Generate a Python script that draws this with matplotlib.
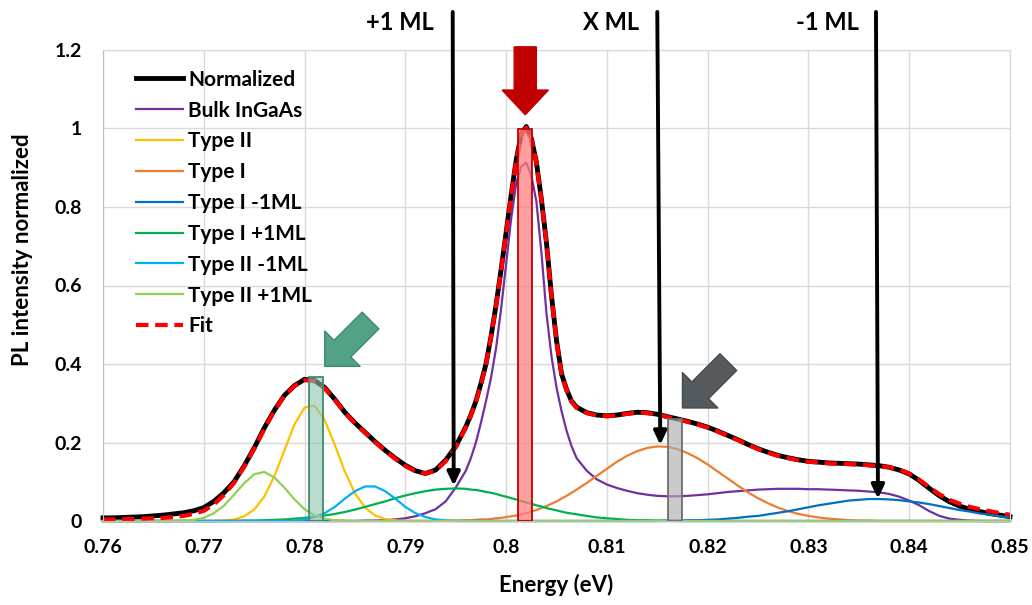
import numpy as np
import matplotlib
matplotlib.use("Agg")
import matplotlib.pyplot as plt
from matplotlib.colors import to_rgba
from matplotlib.ticker import FuncFormatter, MultipleLocator

plt.rcParams['font.family'] = ['Lato', 'DejaVu Sans']
plt.rcParams['font.weight'] = 'bold'

# Energy grid (eV): 1 meV steps, 0.5 meV steps around the main peak
energy = np.round(np.concatenate([
    np.arange(0.760, 0.7955, 0.001),
    np.arange(0.796, 0.8067, 0.0005),
    np.arange(0.807, 0.8505, 0.001)]), 4)

normalized = [
    0.008, 0.008, 0.009, 0.010, 0.011, 0.013, 0.015, 0.018, 0.021, 0.026,
    0.034, 0.050, 0.072, 0.100, 0.140, 0.186, 0.237, 0.282, 0.320, 0.345,
    0.361, 0.358, 0.340, 0.310, 0.277, 0.250, 0.226, 0.202, 0.180, 0.160,
    0.142, 0.128, 0.121, 0.130, 0.155, 0.190,
    0.240, 0.270, 0.305, 0.350, 0.400, 0.470, 0.550, 0.640, 0.735, 0.830,
    0.920, 0.985, 1.005, 0.975, 0.915, 0.820, 0.710, 0.575, 0.460, 0.375,
    0.335, 0.305,
    0.290, 0.276, 0.270, 0.268, 0.270, 0.274, 0.277, 0.276, 0.272, 0.266,
    0.260, 0.254, 0.247, 0.239, 0.229, 0.218, 0.207, 0.195, 0.184, 0.175,
    0.167, 0.161, 0.156, 0.152, 0.150, 0.148, 0.147, 0.146, 0.145, 0.143,
    0.141, 0.137, 0.130, 0.120, 0.103, 0.083, 0.064, 0.049, 0.038, 0.030,
    0.024, 0.019, 0.015, 0.011]

fit = [
    0.004, 0.004, 0.005, 0.005, 0.006, 0.007, 0.008, 0.010, 0.013, 0.018,
    0.026, 0.042, 0.066, 0.097, 0.138, 0.184, 0.234, 0.281, 0.319, 0.344,
    0.359, 0.356, 0.338, 0.309, 0.276, 0.249, 0.225, 0.201, 0.179, 0.158,
    0.140, 0.127, 0.121, 0.128, 0.152, 0.188,
    0.238, 0.268, 0.303, 0.348, 0.398, 0.468, 0.548, 0.638, 0.733, 0.828,
    0.918, 0.982, 1.002, 0.973, 0.913, 0.818, 0.708, 0.573, 0.458, 0.374,
    0.333, 0.303,
    0.288, 0.275, 0.269, 0.267, 0.269, 0.273, 0.276, 0.275, 0.271, 0.265,
    0.259, 0.253, 0.246, 0.238, 0.228, 0.217, 0.206, 0.194, 0.183, 0.174,
    0.166, 0.160, 0.155, 0.151, 0.149, 0.147, 0.146, 0.145, 0.144, 0.142,
    0.140, 0.137, 0.131, 0.121, 0.105, 0.086, 0.068, 0.054, 0.044, 0.036,
    0.030, 0.025, 0.020, 0.016]

# Fit components
bulk_ingaas = [0.0] * 26 + [
    0.001, 0.001, 0.002, 0.004, 0.007, 0.012, 0.020, 0.030, 0.050, 0.085,
    0.128, 0.160, 0.200, 0.250, 0.305, 0.365, 0.440, 0.540, 0.655, 0.770,
    0.860, 0.903, 0.913, 0.880, 0.815, 0.685, 0.530, 0.420, 0.340, 0.280,
    0.230, 0.190,
    0.160, 0.128, 0.106, 0.093, 0.084, 0.077, 0.071, 0.067, 0.064, 0.063,
    0.063, 0.064, 0.066, 0.068, 0.071, 0.074, 0.076, 0.078, 0.080, 0.081,
    0.082, 0.082, 0.082, 0.081, 0.081, 0.080, 0.079, 0.078, 0.077, 0.075,
    0.073, 0.069, 0.062, 0.052, 0.040, 0.025, 0.013, 0.006, 0.003, 0.001,
    0.0, 0.0, 0.0, 0.0]

type_ii = [0.0] * 11 + [
    0.000, 0.001, 0.004, 0.012, 0.029, 0.062, 0.114, 0.180, 0.246, 0.289,
    0.294, 0.257, 0.194, 0.126, 0.071, 0.034, 0.014, 0.005, 0.002, 0.000,
] + [0.0] * 71

type_i = [0.0] * 34 + [
    0.001, 0.001,
    0.002, 0.002, 0.003, 0.004, 0.004, 0.005, 0.007, 0.008, 0.010, 0.012,
    0.014, 0.017, 0.020, 0.024, 0.028, 0.033, 0.038, 0.044, 0.050, 0.057,
    0.064, 0.072,
    0.080, 0.097, 0.115, 0.133, 0.151, 0.166, 0.178, 0.186, 0.190, 0.189,
    0.183, 0.173, 0.160, 0.144, 0.126, 0.108, 0.090, 0.073, 0.058, 0.045,
    0.034, 0.025, 0.018, 0.013, 0.009, 0.006, 0.004, 0.002, 0.001, 0.001,
] + [0.0] * 14

type_i_m1 = [0.0] * 66 + [
    0.000, 0.001, 0.001, 0.002, 0.002, 0.003, 0.004, 0.006, 0.008, 0.011,
    0.013, 0.017, 0.021, 0.025, 0.030, 0.035, 0.040, 0.044, 0.048, 0.052,
    0.054, 0.056, 0.056, 0.055, 0.053, 0.050, 0.047, 0.043, 0.038, 0.033,
    0.028, 0.024, 0.019, 0.016, 0.012, 0.009]

type_i_p1 = [0.0] * 14 + [
    0.001, 0.001, 0.002, 0.003, 0.004, 0.006, 0.008, 0.011, 0.014, 0.018,
    0.023, 0.029, 0.036, 0.043, 0.050, 0.058, 0.065, 0.071, 0.076, 0.080,
    0.082, 0.083,
    0.082, 0.080, 0.079, 0.077, 0.074, 0.072, 0.069, 0.065, 0.062, 0.058,
    0.055, 0.051, 0.047, 0.044, 0.040, 0.037, 0.033, 0.030, 0.027, 0.024,
    0.021, 0.019,
    0.017, 0.013, 0.009, 0.007, 0.005, 0.003, 0.002, 0.002, 0.001, 0.001,
] + [0.0] * 34

type_ii_m1 = [0.0] * 18 + [
    0.000, 0.001, 0.004, 0.010, 0.020, 0.036, 0.057, 0.076, 0.088, 0.088,
    0.076, 0.057, 0.036, 0.020, 0.010, 0.004, 0.001, 0.000,
] + [0.0] * 66

type_ii_p1 = [0.0] * 7 + [
    0.000, 0.001, 0.003, 0.008, 0.020, 0.039, 0.067, 0.096, 0.119, 0.125,
    0.111, 0.085, 0.055, 0.030, 0.014, 0.006, 0.002, 0.001,
] + [0.0] * 77

series = [
    ("Normalized", normalized, "#000000"),
    ("Bulk InGaAs", bulk_ingaas, "#7030A0"),
    ("Type II", type_ii, "#FFC000"),
    ("Type I", type_i, "#ED7D31"),
    ("Type I -1ML", type_i_m1, "#0070C0"),
    ("Type I +1ML", type_i_p1, "#00B050"),
    ("Type II -1ML", type_ii_m1, "#00B0F0"),
    ("Type II +1ML", type_ii_p1, "#92D050"),
]

# Highlighted energy bands
band_x = [0.7811, 0.80185, 0.8168]
band_height = [0.366, 1.0, 0.26]
band_width = 0.0014
band_face = [to_rgba("#8CC5AF", 0.6), to_rgba("#FF7F7F", 0.75), to_rgba("#AEAEB1", 0.65)]
band_edge = ["#3F8A6E", "#C00000", "#6E6E6E"]

# Monolayer arrows
ml_labels = ["+1 ML", "X ML", "-1 ML"]
ml_label_x = [0.7895, 0.8104, 0.8319]
ml_top_x = [0.7947, 0.8150, 0.8367]
ml_tip_x = [0.7948, 0.8153, 0.8369]
ml_tip_y = [0.090, 0.194, 0.057]

# Block arrows (tip positions)
teal_tip = (0.7820, 0.394)
gray_tip = (0.8175, 0.288)
red_arrow_x = 0.8019
red_arrow_top, red_arrow_tip = 1.208, 1.035

fig = plt.figure(figsize=(10.32, 6.05), dpi=100)
ax = fig.add_axes([103 / 1032, 84 / 605, 907 / 1032, 471 / 605])

for name, vals, col in series:
    lw = 3.5 if name == "Normalized" else 1.6
    ax.plot(energy, vals, color=col, lw=lw, label=name, clip_on=False)
ax.plot(energy, fit, color="#FF0000", lw=3.0, ls=(0, (3, 1.6)), label="Fit", clip_on=False)

ax.bar(band_x, band_height, width=band_width, color=band_face,
       edgecolor=band_edge, linewidth=1.3, zorder=3)

# red block arrow above main peak
ax.add_patch(matplotlib.patches.FancyArrow(
    red_arrow_x, red_arrow_top, 0, red_arrow_tip - red_arrow_top,
    width=0.0022, head_width=0.0046, head_length=0.063,
    length_includes_head=True, color="#C00000", zorder=5, clip_on=False))

# diagonal block arrows
for tip, fc, ec in [(teal_tip, "#52A386", "#3F8A6E"), (gray_tip, "#555A5E", "#46494C")]:
    ax.annotate("", xy=tip, xytext=(33, 33), textcoords="offset points",
                arrowprops=dict(arrowstyle="simple,head_length=1.8,head_width=3.6,tail_width=1.7",
                                mutation_scale=10, fc=fc, ec=ec, lw=1,
                                shrinkA=0, shrinkB=0), zorder=5)

# monolayer arrows and labels
for lab, lx, tx, px, py in zip(ml_labels, ml_label_x, ml_top_x, ml_tip_x, ml_tip_y):
    ax.annotate("", xy=(px, py), xytext=(tx, 1.297), annotation_clip=False,
                arrowprops=dict(arrowstyle="-|>,head_length=0.8,head_width=0.38",
                                mutation_scale=10, lw=2.8, color="black",
                                shrinkA=0, shrinkB=0), zorder=6)
    ax.text(lx, 1.271, lab, ha="center", va="center", fontsize=17,
            fontweight="bold", clip_on=False)

ax.set_xlim(0.76, 0.85)
ax.set_ylim(0, 1.2)
ax.xaxis.set_major_locator(MultipleLocator(0.01))
ax.yaxis.set_major_locator(MultipleLocator(0.2))
ax.xaxis.set_major_formatter(FuncFormatter(lambda v, p: "%g" % round(v, 3)))
ax.yaxis.set_major_formatter(FuncFormatter(lambda v, p: "%g" % round(v, 2)))
ax.tick_params(length=0, labelsize=14)
ax.tick_params(axis="x", pad=13)
ax.tick_params(axis="y", pad=15)

ax.grid(True, color="#D9D9D9", lw=1.0)
ax.set_axisbelow(True)
for s in ["top", "right"]:
    ax.spines[s].set_color("#D9D9D9")
for s in ["left", "bottom"]:
    ax.spines[s].set_color("#BFBFBF")

ax.set_xlabel("Energy (eV)", fontsize=16, fontweight="bold")
ax.xaxis.label.set_va("center")
ax.xaxis.set_label_coords(0.5, -0.136)
ax.set_ylabel("PL intensity normalized", fontsize=16, fontweight="bold")
ax.yaxis.label.set(va="center", ha="center", rotation_mode="anchor")
ax.yaxis.set_label_coords(-0.0893, 0.575)

ax.legend(loc="upper left", bbox_to_anchor=(0.0364, 0.958), frameon=False,
          fontsize=15, borderaxespad=0, borderpad=0, labelspacing=0.52,
          handlelength=2.26, handletextpad=0.25)

fig.savefig("out.png", dpi=100)
